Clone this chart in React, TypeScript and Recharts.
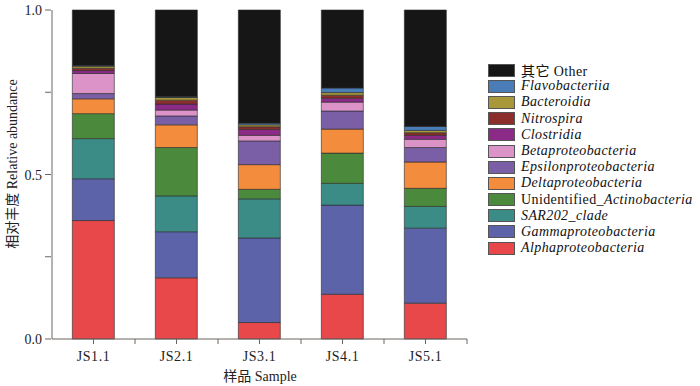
import { BarChart, Bar, XAxis, YAxis } from 'recharts'

const SERIF = '"Liberation Serif", "Times New Roman", "Noto Sans CJK SC", serif'
const AXIS_COLOR = '#6a6560'

const samples = ['JS1.1', 'JS2.1', 'JS3.1', 'JS4.1', 'JS5.1']

// stacked bottom -> top
const seriesKeys = ['alpha', 'gamma', 'sar202', 'actino', 'delta', 'epsilon', 'beta', 'clostridia', 'nitrospira', 'bacteroidia', 'flavo', 'other']
const seriesNames = [
  'Alphaproteobacteria',
  'Gammaproteobacteria',
  'SAR202_clade',
  'Unidentified_Actinobacteria',
  'Deltaproteobacteria',
  'Epsilonproteobacteria',
  'Betaproteobacteria',
  'Clostridia',
  'Nitrospira',
  'Bacteroidia',
  'Flavobacteriia',
  '其它 Other',
]
const seriesColors = ['#e8484a', '#5d63a8', '#3b8c86', '#4b8a3c', '#f48c3e', '#7a5ea6', '#dc94c8', '#8c2a88', '#8c2e2c', '#a8983a', '#4a7db8', '#161616']

const alpha = [0.36, 0.186, 0.05, 0.136, 0.109]
const gamma = [0.127, 0.14, 0.257, 0.271, 0.228]
const sar202 = [0.122, 0.109, 0.119, 0.066, 0.066]
const actino = [0.076, 0.147, 0.029, 0.092, 0.055]
const delta = [0.045, 0.069, 0.075, 0.073, 0.08]
const epsilon = [0.016, 0.027, 0.072, 0.055, 0.044]
const beta = [0.061, 0.018, 0.017, 0.027, 0.025]
const clostridia = [0.009, 0.018, 0.018, 0.012, 0.012]
const nitrospira = [0.007, 0.012, 0.008, 0.009, 0.008]
const bacteroidia = [0.006, 0.008, 0.006, 0.008, 0.007]
const flavo = [0.002, 0.002, 0.005, 0.014, 0.012]
const other = [0.169, 0.264, 0.344, 0.237, 0.354]

const yTicks = [0, 0.25, 0.5, 0.75, 1]

const seriesValues = [alpha, gamma, sar202, actino, delta, epsilon, beta, clostridia, nitrospira, bacteroidia, flavo, other]

const chartData = samples.map((s, i) => {
  const row: Record<string, string | number> = { name: s }
  seriesKeys.forEach((k, j) => { row[k] = seriesValues[j][i] })
  return row
})

const PLOT_LEFT = 52
const PLOT_RIGHT = 467
const BAND = (PLOT_RIGHT - PLOT_LEFT) / samples.length

function YTick(props: any) {
  const { x, y, payload } = props
  const v = payload.value
  const major = v === 0 || v === 0.5 || v === 1
  return (
    <g>
      <line x1={x + 1} x2={x + 7} y1={y} y2={y} stroke={AXIS_COLOR} strokeWidth={1} />
      {major && (
        <text x={x - 2} y={y} dy={5} textAnchor="end" fontFamily={SERIF} fontSize={14} fill="#222">
          {v.toFixed(1)}
        </text>
      )}
    </g>
  )
}

function XTick(props: any) {
  const { x, y, payload } = props
  return (
    <g>
      <line x1={x} x2={x} y1={y - 8} y2={y - 3} stroke={AXIS_COLOR} strokeWidth={1} />
      <line x1={x + BAND / 2} x2={x + BAND / 2} y1={y - 8} y2={y - 3} stroke={AXIS_COLOR} strokeWidth={1} />
      <text x={x} y={y + 14} textAnchor="middle" fontFamily={SERIF} fontSize={14} fill="#222" letterSpacing={0.6}>
        {payload.value}
      </text>
    </g>
  )
}

function LegendLabel({ name }: { name: string }) {
  if (name.startsWith('其它')) return <span>{name}</span>
  if (name.startsWith('Unidentified_')) {
    return (
      <span>
        Unidentified_<i>{name.slice('Unidentified_'.length)}</i>
      </span>
    )
  }
  return <i>{name}</i>
}

export default function App() {
  const legendOrder = seriesNames.map((n, i) => ({ name: n, color: seriesColors[i] })).reverse()
  return (
    <div style={{ position: 'absolute', left: 0, top: 0, width: 700, height: 386, background: '#fff', overflow: 'hidden' }}>
      <BarChart
        width={700}
        height={386}
        data={chartData}
        margin={{ top: 10, right: 700 - PLOT_RIGHT, left: 0, bottom: 0 }}
        barCategoryGap="24.5%"
      >
        <XAxis
          dataKey="name"
          height={47}
          axisLine={{ stroke: AXIS_COLOR }}
          tickLine={false}
          tick={<XTick />}
          interval={0}
        />
        <YAxis
          width={PLOT_LEFT}
          domain={[0, 1]}
          ticks={yTicks}
          axisLine={{ stroke: AXIS_COLOR }}
          tickLine={false}
          tick={<YTick />}
          interval={0}
        />
        {seriesKeys.map((k, i) => (
          <Bar
            key={k}
            dataKey={k}
            stackId="a"
            fill={seriesColors[i]}
            stroke="#2a2a2a"
            strokeOpacity={0.75}
            strokeWidth={0.8}
            isAnimationActive={false}
          />
        ))}
      </BarChart>

      {/* axis titles */}
      <div
        style={{
          position: 'absolute', left: 13, top: 164, transform: 'translate(-50%, -50%) rotate(-90deg)',
          whiteSpace: 'nowrap', fontFamily: SERIF, fontSize: 14, lineHeight: '16px', color: '#222',
        }}
      >
        相对丰度 Relative abundance
      </div>
      <div
        style={{
          position: 'absolute', left: 260, top: 377, transform: 'translate(-50%, -50%)',
          whiteSpace: 'nowrap', fontFamily: SERIF, fontSize: 14, lineHeight: '16px', color: '#222',
        }}
      >
        样品 Sample
      </div>

      {/* legend */}
      <div style={{ position: 'absolute', left: 488, top: 62 }}>
        {legendOrder.map(item => (
          <div key={item.name} style={{ display: 'flex', alignItems: 'center', height: 16.2 }}>
            <span style={{ width: 27, height: 13, background: item.color, border: '1px solid #555', boxSizing: 'border-box', marginRight: 6 }} />
            <span style={{ fontFamily: SERIF, fontSize: 14, color: '#111', letterSpacing: 0.4, whiteSpace: 'nowrap' }}>
              <LegendLabel name={item.name} />
            </span>
          </div>
        ))}
      </div>
    </div>
  )
}
